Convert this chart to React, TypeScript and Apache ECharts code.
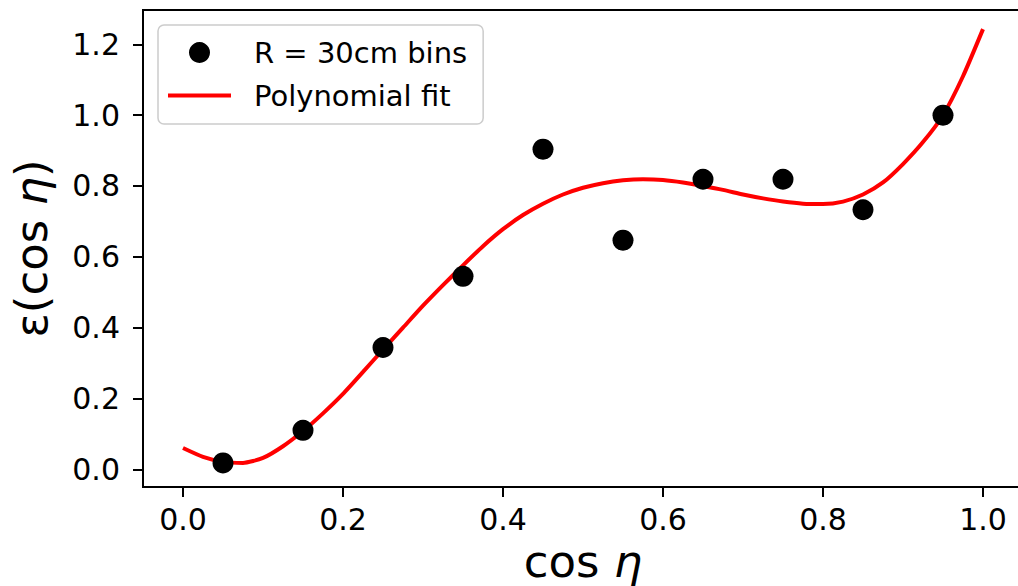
import React, { useEffect, useRef } from "react";
import * as echarts from "echarts";

const binX = [0.05, 0.15, 0.25, 0.35, 0.45, 0.55, 0.65, 0.75, 0.85, 0.95];
const binY = [0.018, 0.11, 0.344, 0.545, 0.904, 0.647, 0.819, 0.819, 0.733, 1.0];

const fitX = [
  0, 0.025, 0.05, 0.075, 0.1, 0.125, 0.15, 0.175, 0.2, 0.225, 0.25, 0.275, 0.3, 0.325, 0.35, 0.375, 0.4,
  0.425, 0.45, 0.475, 0.5, 0.525, 0.55, 0.575, 0.6, 0.625, 0.65, 0.675, 0.7, 0.725, 0.75, 0.775, 0.8,
  0.825, 0.85, 0.875, 0.9, 0.925, 0.95, 0.975, 1.0,
];
const fitY = [
  0.06, 0.035, 0.021, 0.018, 0.032, 0.065, 0.108, 0.158, 0.213, 0.275, 0.338, 0.4, 0.462, 0.52, 0.576, 0.63, 0.678,
  0.718, 0.75, 0.776, 0.795, 0.808, 0.816, 0.819, 0.817, 0.81, 0.8, 0.789, 0.776, 0.765, 0.756, 0.75, 0.749,
  0.756, 0.776, 0.81, 0.862, 0.924, 1.0, 1.11, 1.243,
];

const xTicks = [0, 0.2, 0.4, 0.6, 0.8, 1.0];
const yTicks = [0, 0.2, 0.4, 0.6, 0.8, 1.0, 1.2];

const FONT = "DejaVu Sans";

export default function App() {
  const ref = useRef<HTMLDivElement>(null);
  useEffect(() => {
    if (!ref.current) return;
    const chart = echarts.init(ref.current, undefined, { renderer: "svg" });
    chart.setOption({
      animation: false,
      backgroundColor: "#fff",
      textStyle: { fontFamily: FONT },
      grid: {
        left: 143,
        top: 10,
        width: 880,
        height: 477,
        show: true,
        borderColor: "#000",
        borderWidth: 2,
        containLabel: false,
        outerBoundsMode: "none",
      },
      legend: {
        orient: "vertical",
        left: 158,
        top: 25,
        padding: [13, 16, 14, 10],
        itemGap: 14,
        itemWidth: 63,
        itemHeight: 21,
        backgroundColor: "rgba(255,255,255,0.8)",
        borderColor: "#cccccc",
        borderWidth: 1.5,
        borderRadius: 6,
        textStyle: { fontFamily: FONT, fontSize: 29, color: "#000", padding: [0, 0, 0, 18] },
        data: [
          { name: "R = 30cm bins", icon: "circle" },
          { name: "Polynomial fit", icon: "path://M0,0h63v4h-63z" },
        ],
      },
      xAxis: {
        type: "value",
        min: -0.05,
        max: 1.05,
        name: "cos {i|η}",
        nameLocation: "middle",
        nameGap: 52,
        nameMoveOverlap: false,
        nameTextStyle: {
          fontFamily: FONT,
          fontSize: 45,
          color: "#000",
          rich: { i: { fontFamily: FONT, fontSize: 45, fontStyle: "italic", color: "#000" } },
        },
        axisLine: { show: false, onZero: false },
        splitLine: { show: false },
        axisTick: { show: true, length: 10, lineStyle: { color: "#000", width: 2 }, customValues: xTicks },
        axisLabel: {
          fontFamily: FONT,
          fontSize: 30,
          color: "#000",
          margin: 17,
          customValues: xTicks,
          formatter: (v: number) => v.toFixed(1),
        },
      },
      yAxis: {
        type: "value",
        min: -0.05,
        max: 1.297,
        name: "ε(cos {i|η})",
        nameLocation: "middle",
        nameRotate: 90,
        nameGap: 89,
        nameMoveOverlap: false,
        nameTextStyle: {
          fontFamily: FONT,
          fontSize: 45,
          color: "#000",
          rich: { i: { fontFamily: FONT, fontSize: 45, fontStyle: "italic", color: "#000" } },
        },
        axisLine: { show: false, onZero: false },
        splitLine: { show: false },
        axisTick: { show: true, length: 10, lineStyle: { color: "#000", width: 2 }, customValues: yTicks },
        axisLabel: {
          fontFamily: FONT,
          fontSize: 30,
          color: "#000",
          margin: 23,
          customValues: yTicks,
          formatter: (v: number) => v.toFixed(1),
        },
      },
      series: [
        {
          name: "Polynomial fit",
          type: "line",
          data: fitX.map((x, i) => [x, fitY[i]]),
          smooth: 0.2,
          showSymbol: false,
          symbol: "none",
          lineStyle: { color: "#ff0000", width: 4 },
          itemStyle: { color: "#ff0000" },
          z: 2,
        },
        {
          name: "R = 30cm bins",
          type: "scatter",
          data: binX.map((x, i) => [x, binY[i]]),
          symbol: "circle",
          symbolSize: 21,
          itemStyle: { color: "#000", opacity: 1 },
          z: 3,
        },
      ],
    });
    return () => chart.dispose();
  }, []);
  return (
    <div
      ref={ref}
      style={{ position: "fixed", left: 0, top: 0, width: 1018, height: 586, background: "#fff" }}
    />
  );
}
